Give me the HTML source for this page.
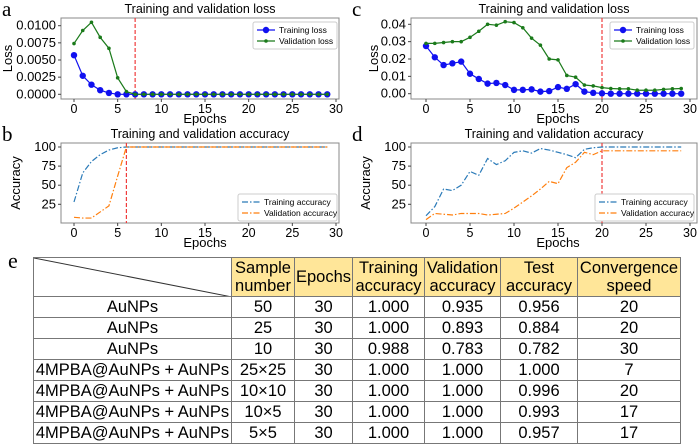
<!DOCTYPE html>
<html><head><meta charset="utf-8"><style>
body{margin:0;background:#fff;width:700px;height:447px;overflow:hidden;font-family:"Liberation Sans",sans-serif}
svg text{font-family:"Liberation Sans",sans-serif}
table{position:absolute;left:33px;top:257px;border-collapse:collapse;font-size:16.5px;table-layout:fixed}
td{border:1px solid #777;text-align:center;padding:0;height:20px;line-height:17px;white-space:nowrap;overflow:hidden}
.h{background:#ffe699;height:38px;line-height:18px;white-space:normal}
</style></head><body>
<svg id="chart" width="700" height="447" style="position:absolute;left:0;top:0"></svg>
<div style="position:absolute;left:8px;top:248px;font:22px 'Liberation Serif',serif">e</div>
<table>
<colgroup><col style="width:198px"><col style="width:63px"><col style="width:58px"><col style="width:72px"><col style="width:76px"><col style="width:77px"><col style="width:103px"></colgroup>
<tr><td style="background:#fff;position:relative"><svg width="198" height="39" style="position:absolute;left:0;top:0"><line x1="0" y1="0" x2="198" y2="39" stroke="#333"/></svg></td><td class="h">Sample number</td><td class="h">Epochs</td><td class="h">Training accuracy</td><td class="h">Validation accuracy</td><td class="h">Test accuracy</td><td class="h">Convergence speed</td></tr>
<tr><td>AuNPs</td><td>50</td><td>30</td><td>1.000</td><td>0.935</td><td>0.956</td><td>20</td></tr>
<tr><td>AuNPs</td><td>25</td><td>30</td><td>1.000</td><td>0.893</td><td>0.884</td><td>20</td></tr>
<tr><td>AuNPs</td><td>10</td><td>30</td><td>0.988</td><td>0.783</td><td>0.782</td><td>30</td></tr>
<tr><td>4MPBA@AuNPs + AuNPs</td><td>25×25</td><td>30</td><td>1.000</td><td>1.000</td><td>1.000</td><td>7</td></tr>
<tr><td>4MPBA@AuNPs + AuNPs</td><td>10×10</td><td>30</td><td>1.000</td><td>1.000</td><td>0.996</td><td>20</td></tr>
<tr><td>4MPBA@AuNPs + AuNPs</td><td>10×5</td><td>30</td><td>1.000</td><td>1.000</td><td>0.993</td><td>17</td></tr>
<tr><td>4MPBA@AuNPs + AuNPs</td><td>5×5</td><td>30</td><td>1.000</td><td>1.000</td><td>0.957</td><td>17</td></tr>
</table>
<script>
const epochs=[0,1,2,3,4,5,6,7,8,9,10,11,12,13,14,15,16,17,18,19,20,21,22,23,24,25,26,27,28,29];
const xTicks=[0,5,10,15,20,25,30];
const aTrain=[0.0057,0.0027,0.0014,0.0006,0.0002,0,0,0,0,0,0,0,0,0,0,0,0,0,0,0,0,0,0,0,0,0,0,0,0,0];
const aVal=[0.0074,0.0093,0.0105,0.0083,0.0067,0.0024,0.0004,0,0,0,0,0,0,0,0,0,0,0,0,0,0,0,0,0,0,0,0,0,0,0];
const aTicks=[0,0.0025,0.005,0.0075,0.01];
const aTickLabels=["0.0000","0.0025","0.0050","0.0075","0.0100"];
const bTrain=[28,66,81,90,96,99,100,100,100,100,100,100,100,100,100,100,100,100,100,100,100,100,100,100,100,100,100,100,100,100];
const bVal=[8,7,7,15,23,62,100,100,100,100,100,100,100,100,100,100,100,100,100,100,100,100,100,100,100,100,100,100,100,100];
const accTicks=[25,50,75,100];
const cTrain=[0.0275,0.021,0.0165,0.0175,0.0185,0.0115,0.0085,0.0058,0.0062,0.005,0.0022,0.0022,0.0025,0.0012,0.0015,0.0038,0.0028,0.0055,0.0012,0.0005,0.0002,0,0,0,0,0,0,0,0,0];
const cVal=[0.029,0.029,0.0295,0.030,0.030,0.0325,0.036,0.040,0.0395,0.0415,0.041,0.038,0.032,0.028,0.020,0.0195,0.0105,0.0095,0.005,0.0045,0.0035,0.003,0.0028,0.0028,0.002,0.002,0.002,0.0025,0.0028,0.003];
const cTicks=[0,0.01,0.02,0.03,0.04];
const cTickLabels=["0.00","0.01","0.02","0.03","0.04"];
const dTrain=[10,22,45,43,50,68,63,85,77,82,93,95,92,98,96,93,90,86,97,99,100,100,100,100,100,100,100,100,100,100];
const dVal=[5,13,12,11,13,13,13,11,12,13,20,28,36,45,55,52,73,80,93,90,95,95,95,95,95,95,95,95,95,95];
const stops=[7,6,20,20];

const S=document.getElementById('chart');const NS='http://www.w3.org/2000/svg';
function mk(t,a,p){const e=document.createElementNS(NS,t);for(const k in a)e.setAttribute(k,a[k]);(p||S).appendChild(e);return e;}
function txt(x,y,s,o){o=o||{};const e=mk('text',{x:x,y:y,'font-size':o.fs||12,'text-anchor':o.a||'middle',fill:'#000'});if(o.r)e.setAttribute('transform','rotate(-90 '+x+' '+y+')');if(o.f)e.setAttribute('style','font-family:"Liberation Serif",serif');e.textContent=s;return e;}
function panel(cfg){
 const g=mk('g',{});
 
 
 const L=cfg.L,R=cfg.R,T=cfg.T,B=cfg.B;
 const X=v=>cfg.x0+(cfg.x30-cfg.x0)*v/30;
 const Y=v=>cfg.yb+(cfg.yt-cfg.yb)*(v-cfg.vb)/(cfg.vt-cfg.vb);
 const box=mk('rect',{x:L,y:T,width:R-L,height:B-T,fill:'none',stroke:'#888','stroke-width':1},g);
 
 
 xTicks.forEach(t=>{mk('line',{x1:X(t),x2:X(t),y1:B,y2:B+3,stroke:'#444'},g);const e=txt(X(t),B+14,String(t),{fs:12.5});});
 cfg.yt_.forEach((t,i)=>{mk('line',{x1:L-3,x2:L,y1:Y(t),y2:Y(t),stroke:'#444'},g);const e=txt(L-5,Y(t)+4,cfg.yl[i],{fs:cfg.yfs||13,a:'end'});});
 const tt=txt((L+R)/2,T-5,cfg.title,{fs:12.5});
 const xl=txt(X(15),B+24,'Epochs',{fs:13});
 const yl=txt(cfg.ylx,(T+B)/2,cfg.ylab,{fs:13,r:1});
 const pl=txt(cfg.plx,T-2,cfg.letter,{fs:21,a:'start',f:1});
 const vl=mk('line',{x1:X(cfg.stop),x2:X(cfg.stop),y1:T,y2:B,stroke:'#f03c3c','stroke-dasharray':'4,2','stroke-width':1.2},g);
 
 
 cfg.series.forEach(s=>{
  const p=mk('polyline',{points:epochs.map((e,i)=>X(e)+','+Y(s.v[i])).join(' '),fill:'none',stroke:s.c,'stroke-width':s.w||1.2,'stroke-dasharray':s.d||''},g);
  
  
  if(s.m){epochs.forEach((e,i)=>{const c=mk('circle',{cx:X(e),cy:Y(s.v[i]),r:s.m,fill:s.c},g);});}
 });
 const lg=mk('g',{},g);
 
 
 mk('rect',{x:cfg.lx,y:cfg.ly,width:cfg.lw,height:27,fill:'#fff',stroke:'#ccc',rx:2},lg);
 cfg.series.forEach((s,i)=>{const yy=cfg.ly+8+i*11;mk('line',{x1:cfg.lx+4,x2:cfg.lx+22,y1:yy,y2:yy,stroke:s.c,'stroke-width':1.2,'stroke-dasharray':s.d||''},lg);if(s.m)mk('circle',{cx:cfg.lx+13,cy:yy,r:s.m,fill:s.c},lg);const e=mk('text',{x:cfg.lx+26,y:yy+3,'font-size':8.5,fill:'#000'},lg);e.textContent=s.label;});
}
const dd='6,2,1.5,2';
panel({name:'panel-a-loss',letter:'a',plx:2,L:61,R:339,T:18,B:99,x0:74,x30:336,yb:94.3,yt:25.7,vb:0,vt:0.01,yt_:aTicks,yl:aTickLabels,title:'Training and validation loss',ylab:'Loss',ylx:12,stop:stops[0],lx:253,ly:22,lw:84,
 series:[{n:'training-loss-line',label:'Training loss',v:aTrain,c:'#1010f0',m:3.2},{n:'validation-loss-line',label:'Validation loss',v:aVal,c:'#1a7a1a',m:1.8}]});
panel({name:'panel-b-accuracy',letter:'b',plx:2,L:61,R:339,T:143,B:223,x0:74,x30:336,yb:204.3,yt:147,vb:25,vt:100,yt_:accTicks,yl:['25','50','75','100'],title:'Training and validation accuracy',ylab:'Accuracy',ylx:20,stop:stops[1],lx:238,ly:194,lw:99,
 series:[{n:'training-accuracy-line',label:'Training accuracy',v:bTrain,c:'#2a7ab8',d:dd},{n:'validation-accuracy-line',label:'Validation accuracy',v:bVal,c:'#ff7f0e',d:dd}]});
panel({name:'panel-c-loss',letter:'c',plx:352,L:411,R:697,T:18,B:99,x0:426,x30:690,yb:93.7,yt:24.3,vb:0,vt:0.04,yt_:cTicks,yl:cTickLabels,title:'Training and validation loss',ylab:'Loss',ylx:378,stop:stops[2],lx:610,ly:22,lw:84,
 series:[{n:'training-loss-line',label:'Training loss',v:cTrain,c:'#1010f0',m:3.2},{n:'validation-loss-line',label:'Validation loss',v:cVal,c:'#1a7a1a',m:1.8}]});
panel({name:'panel-d-accuracy',letter:'d',plx:352,L:411,R:697,T:143,B:223,x0:426,x30:690,yb:204.3,yt:147,vb:25,vt:100,yt_:accTicks,yl:['25','50','75','100'],title:'Training and validation accuracy',ylab:'Accuracy',ylx:370,stop:stops[3],lx:595,ly:194,lw:99,
 series:[{n:'training-accuracy-line',label:'Training accuracy',v:dTrain,c:'#2a7ab8',d:dd},{n:'validation-accuracy-line',label:'Validation accuracy',v:dVal,c:'#ff7f0e',d:dd}]});
</script>
</body></html>
